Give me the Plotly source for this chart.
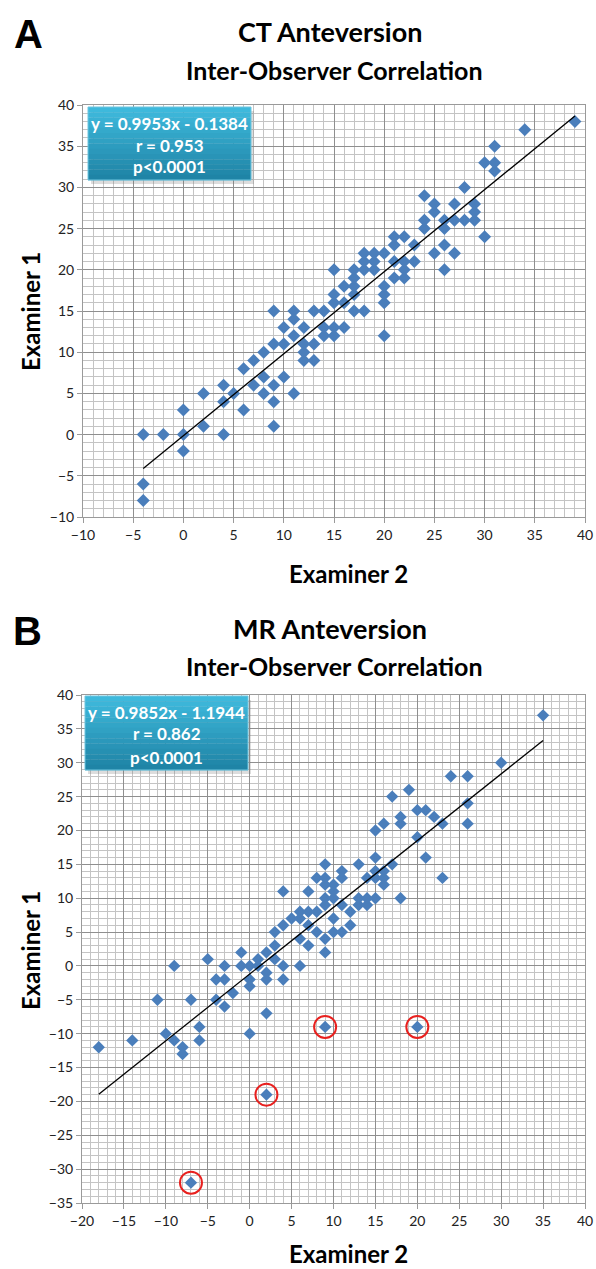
import plotly.graph_objects as go

W, H = 596, 1269

# ---------------- data ----------------
ct_examiner2 = [-4, -4, -4, -2, 0, 0, 0, 2, 2, 4, 4, 4, 5, 6, 6, 7, 7, 8, 8, 8, 9, 9, 9, 9, 9,
                10, 10, 10, 11, 11, 11, 11, 12, 12, 12, 12, 13, 13, 13, 14, 14, 14, 15, 15, 15,
                15, 15, 16, 16, 16, 17, 17, 17, 17, 17, 18, 18, 18, 18, 19, 19, 19, 20, 20, 20,
                20, 20, 21, 21, 21, 21, 22, 22, 22, 22, 23, 23, 24, 24, 24, 25, 25, 25, 26, 26,
                26, 26, 27, 27, 27, 28, 28, 29, 29, 29, 30, 30, 31, 31, 31, 34, 39]
ct_examiner1 = [0, -6, -8, 0, 0, 3, -2, 1, 5, 0, 4, 6, 5, 3, 8, 6, 9, 5, 7, 10, 1, 4, 6, 11, 15,
                7, 11, 13, 5, 12, 14, 15, 9, 10, 11, 13, 9, 11, 15, 12, 13, 15, 12, 13, 16,
                17, 20, 13, 16, 18, 15, 17, 18, 19, 20, 15, 20, 21, 22, 20, 21, 22, 12, 16, 17,
                18, 22, 19, 21, 23, 24, 19, 20, 21, 24, 21, 23, 25, 26, 29, 22, 27, 28, 20, 23,
                25, 26, 22, 26, 28, 26, 30, 26, 27, 28, 24, 33, 32, 33, 35, 37, 38]
ct_fit = (0.9953, -0.1384)
ct_stats = ["y = 0.9953x - 0.1384", "r = 0.953", "p<0.0001"]

mr_examiner2 = [-18, -14, -11, -10, -9, -9, -8, -8, -7, -7, -6, -6, -5, -4, -4, -3, -3, -3, -2,
                -1, -1, 0, 0, 0, 0, 1, 1, 2, 2, 2, 2, 2, 3, 3, 3, 4, 4, 4, 4, 5, 6, 6, 6, 6,
                7, 7, 7, 7, 8, 8, 8, 9, 9, 9, 9, 9, 9, 9, 9, 10, 10, 10, 10, 10, 11, 11, 11,
                11, 12, 12, 13, 13, 13, 14, 14, 14, 15, 15, 15, 15, 15, 16, 16, 16, 16, 17,
                17, 18, 18, 18, 19, 20, 20, 20, 21, 21, 22, 23, 23, 24, 26, 26, 26, 30, 35]
mr_examiner1 = [-12, -11, -5, -10, 0, -11, -12, -13, -5, -32, -9, -11, 1, -2, -5, 0, -2, -6, -4,
                2, 0, 0, -2, -3, -10, 1, 0, 2, -1, -2, -7, -19, 3, 1, 5, 0, -2, 6, 11, 7, 0, 4, 7, 8,
                3, 6, 8, 11, 5, 8, 13, 2, 4, 9, 10, 12, 13, 15, -9, 5, 7, 10, 11, 12, 5, 9, 13,
                14, 6, 8, 9, 10, 15, 9, 10, 13, 10, 13, 14, 16, 20, 12, 13, 14, 21, 15,
                25, 10, 21, 22, 26, 19, 23, -9, 16, 23, 22, 13, 21, 28, 21, 24, 28, 30, 37]
mr_outlier_x = [-7, 2, 9, 20]
mr_outlier_y = [-32, -19, -9, -9]
mr_fit = (0.9852, -1.1944)
mr_stats = ["y = 0.9852x - 1.1944", "r = 0.862", "p<0.0001"]

# ---------------- helpers ----------------
def px(x):
    return x / W

def py(y):
    return 1 - y / H

BLUE = "#4a7ebb"
FONT = "Lato"

fig = go.Figure()

# Panel A
fig.add_trace(go.Scatter(x=ct_examiner2, y=ct_examiner1, mode="markers", xaxis="x", yaxis="y",
                         marker=dict(symbol="diamond", size=10, color=BLUE), showlegend=False))
xa = [min(ct_examiner2), max(ct_examiner2)]
fig.add_trace(go.Scatter(x=xa, y=[ct_fit[0] * v + ct_fit[1] for v in xa], mode="lines",
                         xaxis="x", yaxis="y", line=dict(color="black", width=1.3), showlegend=False))

# Panel B
fig.add_trace(go.Scatter(x=mr_examiner2, y=mr_examiner1, mode="markers", xaxis="x2", yaxis="y2",
                         marker=dict(symbol="diamond", size=9.5, color=BLUE), showlegend=False))
xb = [min(mr_examiner2), max(mr_examiner2)]
fig.add_trace(go.Scatter(x=xb, y=[mr_fit[0] * v + mr_fit[1] for v in xb], mode="lines",
                         xaxis="x2", yaxis="y2", line=dict(color="black", width=1.3), showlegend=False))
fig.add_trace(go.Scatter(x=mr_outlier_x, y=mr_outlier_y, mode="markers", xaxis="x2", yaxis="y2",
                         marker=dict(symbol="circle-open", size=22, color="#e8201e",
                                     line=dict(width=2, color="#e8201e")),
                         showlegend=False))

def axis_style(rng, domain, anchor):
    return dict(range=rng, domain=domain, anchor=anchor, dtick=5, tick0=0, automargin=False,
                showgrid=True, gridcolor="#8f8f8f", gridwidth=1,
                minor=dict(dtick=1, showgrid=True, gridcolor="#c4c4c4", gridwidth=1),
                zeroline=False, showline=True, linecolor="#9a9a9a", linewidth=1, mirror=True,
                ticks="outside", ticklen=5, tickcolor="#9a9a9a",
                tickfont=dict(family=FONT, size=14, color="#222"))

fig.update_layout(
    width=W, height=H, margin=dict(l=0, r=0, t=0, b=0, pad=0, autoexpand=False),
    paper_bgcolor="white", plot_bgcolor="white",
    xaxis=axis_style([-10, 40], [px(83), px(585)], "y"),
    yaxis=axis_style([-10, 40], [py(517), py(105)], "x"),
    xaxis2=axis_style([-20, 40], [px(82), px(585)], "y2"),
    yaxis2=axis_style([-35, 40], [py(1203), py(695)], "x2"),
)

shapes = []
annotations = []

def stats_box(x0, x1, y0, y1, lines, line_y):
    # shadow
    shapes.append(dict(type="rect", xref="paper", yref="paper",
                       x0=px(x0 + 3), x1=px(x1 + 3), y0=py(y1 + 4), y1=py(y0 + 4),
                       fillcolor="rgba(120,120,120,0.25)", line=dict(width=0), layer="above"))
    n = 14
    top = (0x3e, 0xb9, 0xdc)
    bot = (0x1f, 0x84, 0xa6)
    for i in range(n):
        t = i / (n - 1)
        c = tuple(int(round(top[k] + (bot[k] - top[k]) * t)) for k in range(3))
        ya = y0 + (y1 - y0) * i / n
        yb = y0 + (y1 - y0) * (i + 1) / n
        shapes.append(dict(type="rect", xref="paper", yref="paper",
                           x0=px(x0), x1=px(x1), y0=py(yb + 0.3), y1=py(ya),
                           fillcolor="rgb(%d,%d,%d)" % c, line=dict(width=0), layer="above"))
    shapes.append(dict(type="rect", xref="paper", yref="paper",
                       x0=px(x0), x1=px(x1), y0=py(y1), y1=py(y0),
                       fillcolor="rgba(0,0,0,0)", line=dict(width=1, color="#6fc6e0"), layer="above"))
    for txt, yy in zip(lines, line_y):
        annotations.append(dict(text="<b>%s</b>" % txt, xref="paper", yref="paper",
                                x=px((x0 + x1) / 2), y=py(yy), showarrow=False,
                                xanchor="center", yanchor="middle",
                                font=dict(family=FONT, size=17, color="white")))

stats_box(88, 251, 107, 180, ct_stats, [123, 145, 167])
stats_box(85, 248, 696, 770, mr_stats, [712, 734, 757])

def text(t, x, y, size, family=FONT, angle=0):
    annotations.append(dict(text="<b>%s</b>" % t, xref="paper", yref="paper", x=px(x), y=py(y),
                            showarrow=False, xanchor="center", yanchor="middle", textangle=angle,
                            font=dict(family=family, size=size, color="black")))

text("A", 28, 34, 40, family="Liberation Sans")
text("CT Anteversion", 330, 31, 27)
text("Inter-Observer Correlation", 334, 70, 25)
text("Examiner 2", 348, 573, 24)
text("Examiner 1", 30, 311, 24, angle=-90)

text("B", 27, 631, 40, family="Liberation Sans")
text("MR Anteversion", 330, 629, 27)
text("Inter-Observer Correlation", 334, 666, 25)
text("Examiner 2", 348, 1253, 24)
text("Examiner 1", 30, 950, 24, angle=-90)

fig.update_layout(shapes=shapes, annotations=annotations)

fig.write_html("out.html", config={"displayModeBar": False},
               post_script="document.body.style.margin='0';document.body.style.padding='0';")
